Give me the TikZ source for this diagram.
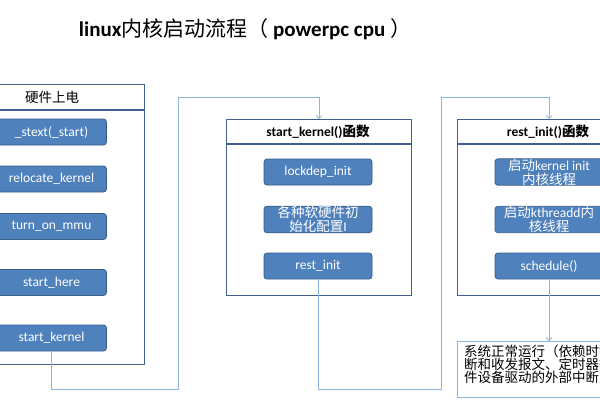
\documentclass[tikz,border=0pt]{standalone}
\usepackage{fontspec}
\setmainfont{Carlito}
\newfontfamily\cjk{Noto Sans CJK SC}
\usetikzlibrary{arrows.meta}
\definecolor{boxblue}{HTML}{4F81BD}
\definecolor{boxedge}{HTML}{385D8A}
\definecolor{framec}{HTML}{3F5F8F}
\definecolor{connc}{HTML}{8EB4E3}
\tikzset{
  blk/.style={rounded corners=3pt, fill=boxblue, draw=boxedge, line width=0.8pt,
    minimum width=108pt, minimum height=26pt, text=white, align=center, inner sep=0pt,
    font=\fontsize{13.5}{15}\selectfont},
  blk2/.style={blk, font=\fontsize{13.5}{14}\selectfont},
  frm/.style={draw=framec, line width=1.3pt, inner sep=0pt, anchor=north west},
  hdr/.style={font=\bfseries\fontsize{13.5}{15}\selectfont},
  link/.style={draw=connc, line width=0.8pt},
  arr/.style={link, -{Straight Barb[length=3pt,width=6pt]}}
}
\begin{document}
\begin{tikzpicture}[x=1pt,y=-1pt]
\useasboundingbox (0,0) rectangle (600,400);
\clip (0,0) rectangle (600,400);
% title
\node (title) at (245,29) {\fontsize{21}{24}\selectfont\bfseries linux{\cjk\mdseries 内核启动流程（} powerpc cpu {\cjk\mdseries ）}};
% containers
\node[frm, minimum width=184pt, minimum height=280pt] (lc) at (-40,84) {};
\node[frm, minimum width=185pt, minimum height=176pt] (mc) at (226,119) {};
\node[frm, minimum width=183pt, minimum height=176pt] (rc) at (457,119) {};
\coordinate (lh) at (0,110);
\coordinate (mh) at (0,144);
\draw[framec, line width=1.3pt] (lc.west |- lh) -- (lc.east |- lh);
\draw[framec, line width=1.3pt] (mc.west |- mh) -- (mc.east |- mh);
\draw[framec, line width=1.3pt] (rc.west |- mh) -- (rc.east |- mh);
\node[hdr] (lt) at (52,97) {\cjk\mdseries 硬件上电};
\node[hdr] (mt) at (318,131.5) {start\_kernel(){\cjk 函数}};
\node[hdr] (rt) at (548,131.5) {rest\_init(){\cjk 函数}};
% left boxes
\node[blk, minimum width=110pt] (s1) at (51.5,132) {\_stext(\_start)};
\node[blk, minimum width=110pt] (s2) at (51.5,179) {relocate\_kernel};
\node[blk, minimum width=110pt] (s3) at (51.5,226.5) {turn\_on\_mmu};
\node[blk, minimum width=110pt] (s4) at (51.5,282.5) {start\_here};
\node[blk, minimum width=110pt] (sk) at (51.5,338) {start\_kernel};
% middle boxes
\node[blk] (m1) at (318,172) {lockdep\_init};
\node[blk2] (m2) at (318,219.5) {{\cjk 各种软硬件初}\\{\cjk 始化配置}I};
\node[blk] (ri) at (318,266) {rest\_init};
% right boxes
\node[blk2] (r1) at (549,172) {{\cjk 启动}kernel init\\{\cjk 内核线程}};
\node[blk2] (r2) at (549,219.5) {{\cjk 启动}kthreadd{\cjk 内}\\{\cjk 核线程}};
\node[blk] (sc) at (549,266) {schedule()};
% text box
\node[draw=connc, line width=0.8pt, inner sep=0pt, anchor=north west, minimum width=183pt, minimum height=56pt] (tb) at (457,341) {};
\node[anchor=north west, align=left, inner sep=0pt, font=\cjk\fontsize{13.5}{13}\selectfont] (tt) at (464,345) {系统正常运行（依赖时钟中\\断和收发报文、定时器等硬\\件设备驱动的外部中断）};
% connectors
\coordinate (a1) at (178,389);
\coordinate (a2) at (178,97);
\coordinate (b1) at (441,389);
\coordinate (b2) at (441,97);
\draw[arr] (sk.south) |- (a1) -- (a2) -| (mc.north);
\draw[arr] (ri.south) |- (b1) -- (b2) -| (rc.north);
\draw[arr] (sc.south) -- (sc.south |- tb.north);
\end{tikzpicture}
\end{document}
